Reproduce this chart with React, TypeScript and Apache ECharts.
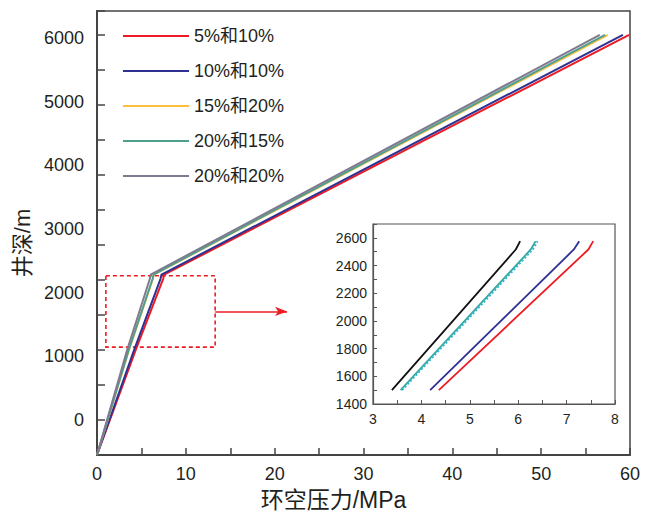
import React, { useEffect, useRef } from 'react';
import * as echarts from 'echarts';

// ---- data ----
const seriesNames = ['5%和10%', '10%和10%', '15%和20%', '20%和15%', '20%和20%'];
const depths = [0, 1500, 2516, 2576, 6000];
const pRed = [0, 4.36, 7.45, 7.55, 59.9];
const pBlue = [0, 4.18, 7.15, 7.26, 59.2];
const pYellow = [0, 3.6, 6.3, 6.4, 57.5];
const pTeal = [0, 3.57, 6.26, 6.36, 57.2];
const pGray = [0, 3.39, 5.95, 6.04, 56.6];
const pressures = [pRed, pBlue, pYellow, pTeal, pGray];
const yTickLabels = [0, 1000, 2000, 3000, 4000, 5000, 6000];
const xTickLabels = [0, 10, 20, 30, 40, 50, 60];
const insetXLabels = [3, 4, 5, 6, 7, 8];
const insetYLabels = [1400, 1600, 1800, 2000, 2200, 2400, 2600];
const insetSlice = [1, 4];
const zoomBoxX = [1.0, 13.3];
const zoomBoxY = [1540, 2560];
const arrowX = [13.3, 21.4];
const arrowY = 2050;

// ---- styles ----
const mainColors = ['#ed1c24', '#2e3192', '#fbbf3f', '#4f9f8f', '#7f7a8f'];
const insetColors = ['#ed1c24', '#2e3192', '#2bb5d8', '#3aa89c', '#111111'];
const FONT = '"Liberation Sans", Arial, "Noto Sans CJK SC", sans-serif';
const TXT = '#231f20';
const AX = '#444444';

export default function App() {
  const ref = useRef<HTMLDivElement>(null);
  useEffect(() => {
    if (!ref.current) return;
    const chart = echarts.init(ref.current, null, { renderer: 'svg' });

    const mainSeries: any[] = seriesNames.map((name, i) => ({
      name,
      type: 'line',
      xAxisIndex: 0,
      yAxisIndex: 0,
      showSymbol: false,
      symbol: 'none',
      lineStyle: { color: mainColors[i], width: 2 },
      itemStyle: { color: mainColors[i] },
      data: depths.map((d, j) => [pressures[i][j], d]),
    }));
    mainSeries[0].markArea = {
      silent: true,
      itemStyle: {
        color: 'rgba(0,0,0,0)',
        borderColor: '#ed1c24',
        borderWidth: 1.6,
        borderType: [4, 3],
      },
      data: [[{ coord: [zoomBoxX[0], zoomBoxY[1]] }, { coord: [zoomBoxX[1], zoomBoxY[0]] }]],
    };
    mainSeries[0].markLine = {
      silent: true,
      symbol: ['none', 'arrow'],
      symbolSize: [7, 12],
      label: { show: false },
      lineStyle: { color: '#ed1c24', width: 1.6, type: 'solid' },
      data: [[{ coord: [arrowX[0], arrowY] }, { coord: [arrowX[1], arrowY] }]],
    };

    const insetSeries = seriesNames.map((name, i) => ({
      name: name + ' 局部',
      type: 'line',
      xAxisIndex: 1,
      yAxisIndex: 2,
      showSymbol: false,
      symbol: 'none',
      z: i === 2 ? 5 : 3,
      lineStyle: { color: insetColors[i], width: i === 2 ? 2 : 1.8, type: i === 2 ? 'dotted' : 'solid' },
      data: depths.slice(insetSlice[0], insetSlice[1]).map((d, j) => [pressures[i][j + insetSlice[0]], d]),
    }));

    chart.setOption({
      animation: false,
      backgroundColor: '#ffffff',
      textStyle: { fontFamily: FONT },
      legend: {
        data: seriesNames,
        orient: 'vertical',
        left: 122,
        top: 27,
        padding: 0,
        itemWidth: 66,
        itemHeight: 18,
        itemGap: 17,
        itemStyle: { opacity: 0 },
        textStyle: { fontSize: 18, color: TXT, fontFamily: FONT },
      },
      grid: [
        { left: 97, right: 21, top: 11, bottom: 63, show: true, borderColor: AX, borderWidth: 1.5, outerBoundsMode: 'none', containLabel: false },
        { left: 373, top: 224, width: 242, height: 180, show: true, backgroundColor: '#ffffff', borderColor: '#555555', borderWidth: 1.2, outerBoundsMode: 'none', containLabel: false },
      ],
      xAxis: [
        {
          type: 'value',
          gridIndex: 0,
          position: 'bottom',
          min: 0,
          max: 60,
          interval: 5,
          splitLine: { show: false },
          axisLine: { show: true, lineStyle: { color: AX, width: 2 } },
          axisTick: { show: true, inside: true, length: 7, lineStyle: { color: AX, width: 1.5 } },
          axisLabel: {
            fontSize: 18,
            color: TXT,
            margin: 10,
            fontFamily: FONT,
            formatter: (v: number) => (xTickLabels.includes(v) ? String(v) : ''),
          },
          name: '环空压力/MPa',
          nameLocation: 'middle',
          nameGap: 33,
          nameTextStyle: { fontSize: 23, color: TXT, fontFamily: FONT, padding: [0, 60, 0, 0] },
        },
        {
          type: 'value',
          gridIndex: 1,
          position: 'bottom',
          min: 3,
          max: 8,
          interval: 0.5,
          splitLine: { show: false },
          axisLine: { show: true, lineStyle: { color: '#555555', width: 1.2 } },
          axisTick: { show: true, inside: true, length: 4, lineStyle: { color: '#555555' } },
          axisLabel: {
            fontSize: 14,
            color: TXT,
            margin: 8,
            fontFamily: FONT,
            formatter: (v: number) => (insetXLabels.includes(v) ? String(v) : ''),
          },
        },
      ],
      yAxis: [
        {
          type: 'value',
          gridIndex: 0,
          position: 'left',
          min: 0,
          max: 6340,
          interval: 500,
          splitLine: { show: false },
          axisLine: { show: true, lineStyle: { color: AX, width: 2 } },
          axisTick: { show: true, inside: true, length: 8, lineStyle: { color: AX, width: 1.5 } },
          axisLabel: { show: false },
        },
        {
          type: 'value',
          gridIndex: 0,
          position: 'left',
          offset: 0,
          min: -550,
          max: 6424,
          splitNumber: 7,
          splitLine: { show: false },
          axisLine: { show: false },
          axisTick: { show: false },
          axisLabel: {
            fontSize: 18,
            color: TXT,
            margin: 13,
            fontFamily: FONT,
            formatter: (v: number) => (yTickLabels.includes(v) ? String(v) : ''),
          },
          name: '井深/m',
          nameLocation: 'middle',
          nameGap: 56,
          nameRotate: 90,
          nameTextStyle: { fontSize: 22, color: TXT, fontFamily: FONT, padding: [0, 20, 0, 0] },
        },
        {
          type: 'value',
          gridIndex: 1,
          position: 'left',
          min: 1400,
          max: 2700,
          interval: 100,
          splitLine: { show: false },
          axisLine: { show: true, lineStyle: { color: '#555555', width: 1.2 } },
          axisTick: { show: true, inside: true, length: 4, lineStyle: { color: '#555555' } },
          axisLabel: {
            fontSize: 14,
            color: TXT,
            margin: 6,
            fontFamily: FONT,
            formatter: (v: number) => (insetYLabels.includes(v) ? String(v) : ''),
          },
        },
      ],
      series: [...mainSeries, ...insetSeries],
    });

    return () => chart.dispose();
  }, []);

  return (
    <div
      ref={ref}
      style={{ position: 'absolute', left: 0, top: 0, width: 651, height: 518, background: '#fff' }}
    />
  );
}
